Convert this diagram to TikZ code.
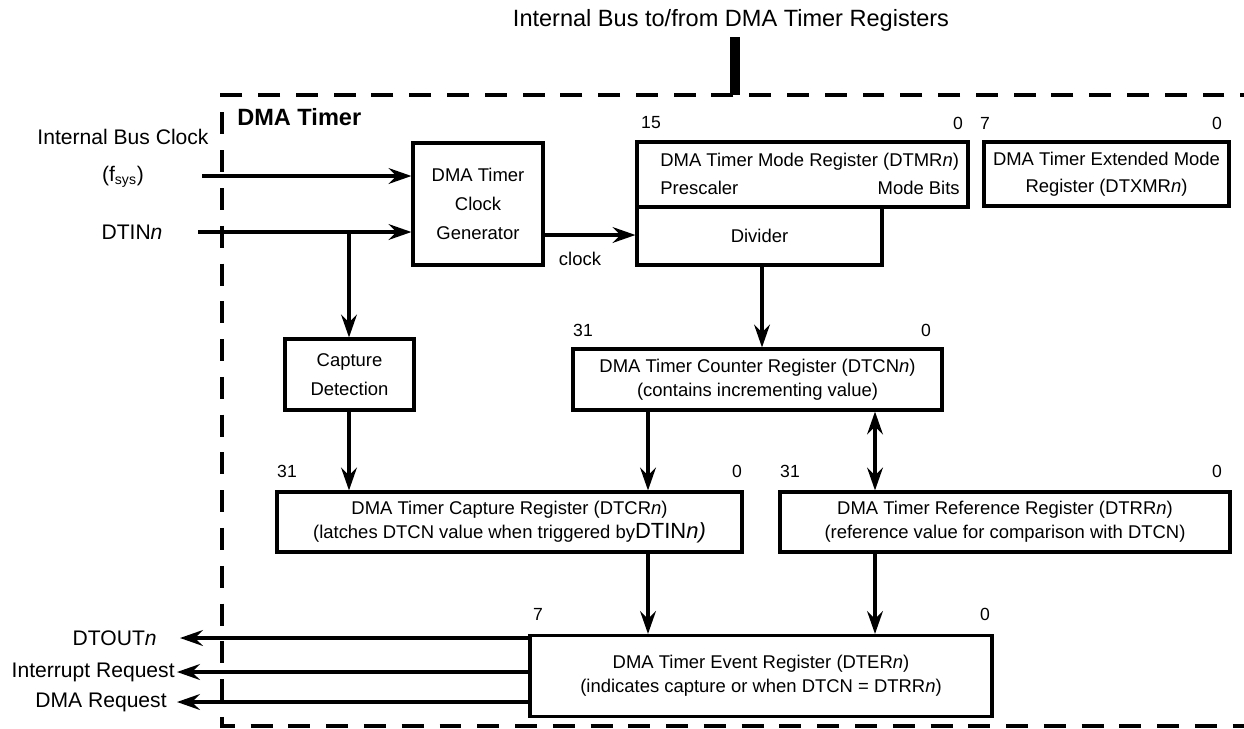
\documentclass[tikz,border=0pt]{standalone}
\usepackage{fontspec}
\setmainfont{Liberation Sans}
\usetikzlibrary{arrows.meta}

\newcommand{\boxfont}{\fontsize{10.5}{13.5}\selectfont}
\newcommand{\sidefont}{\fontsize{12}{14}\selectfont}
\newcommand{\bitfont}{\fontsize{10}{12}\selectfont}
\newcommand{\bigfont}{\fontsize{13.4}{16}\selectfont}

\tikzset{
  reg/.style={draw, line width=1.8pt, inner sep=0pt, align=center, font=\boxfont},
  txt/.style={inner sep=0pt, font=\boxfont},
  bit/.style={inner sep=0pt, font=\bitfont},
  side/.style={inner sep=0pt, align=center, font=\sidefont},
  tip/.style={Stealth[length=13pt,width=9pt,inset=4.5pt]},
  arr/.style={line width=1.8pt, -{Stealth[length=13pt,width=9pt,inset=4.5pt]}},
  dblarr/.style={line width=1.8pt, {Stealth[length=13pt,width=9pt,inset=4.5pt]}-{Stealth[length=13pt,width=9pt,inset=4.5pt]}},
  bus/.style={line width=5.6pt},
  frame/.style={line width=1.9pt, dash pattern=on 12.5pt off 9pt}
}

\begin{document}
\begin{tikzpicture}[x=0.02cm, y=-0.02cm]
\useasboundingbox (0,0) rectangle (1244,728);

% dashed outline of the timer block
\draw[frame] (1300,95) -- (222,95) -- (222,726) -- (1300,726);
\node[inner sep=0pt, anchor=west, font=\bigfont\bfseries] (blk) at (237,117) {DMA Timer};

% bus
\node[inner sep=0pt, font=\bigfont] (bustxt) at (731,20) {Internal Bus to/from DMA Timer Registers};
\coordinate (bustop) at (735,37);
\coordinate (busbot) at (735,95);
\draw[bus] (bustop) -- (busbot);

% registers and blocks
\node[reg, minimum width=2.6cm, minimum height=2.44cm] (clkgen) at (478,204) {DMA Timer\\[3pt]Clock\\[3pt]Generator};
\node[reg, minimum width=6.62cm, minimum height=1.3cm] (mode) at (802.5,174.5) {};
\node[reg, minimum width=4.9cm, minimum height=1.16cm] (divider) at (759.5,236) {Divider};
\node[reg, minimum width=4.9cm, minimum height=1.28cm] (xmode) at (1106.5,174) {DMA Timer Extended Mode\\[2pt]Register (DTXMR\textit{n})};
\node[reg, minimum width=2.58cm, minimum height=1.42cm] (capdet) at (349.5,374.5) {Capture\\[3pt]Detection};
\node[reg, minimum width=7.38cm, minimum height=1.22cm] (counter) at (757.5,379.5) {DMA Timer Counter Register (DTCN\textit{n})\\(contains incrementing value)};
\node[reg, minimum width=9.3cm, minimum height=1.2cm] (capreg) at (509.5,522) {DMA Timer Capture Register (DTCR\textit{n})\\(latches DTCN value when triggered by{\fontsize{12.5}{13.5}\selectfont DTIN\textit{n)}}};
\node[reg, minimum width=9.0cm, minimum height=1.2cm] (refreg) at (1005,522) {DMA Timer Reference Register (DTRR\textit{n})\\(reference value for comparison with DTCN)};
\node[reg, minimum width=9.24cm, minimum height=1.62cm] (event) at (761,676) {DMA Timer Event Register (DTER\textit{n})\\(indicates capture or when DTCN = DTRR\textit{n})};

% text inside the mode register
\node[txt, anchor=west] (modettl) at (660,162) {DMA Timer Mode Register (DTMR\textit{n})};
\node[txt, anchor=west] (presc) at (660,188) {Prescaler};
\node[txt, anchor=east] (modebits) at (960,188) {Mode Bits};

% bit numbers
\node[bit] (m15) at (651,123) {15};
\node[bit] (m0) at (958,123) {0};
\node[bit] (x7) at (985,123) {7};
\node[bit] (x0) at (1217,123) {0};
\node[bit] (c31) at (583,330) {31};
\node[bit] (c0) at (926,330) {0};
\node[bit] (p31) at (287,471) {31};
\node[bit] (p0) at (737,471) {0};
\node[bit] (r31) at (790,471) {31};
\node[bit] (r0) at (1217,471) {0};
\node[bit] (e7) at (538,614) {7};
\node[bit] (e0) at (985,614) {0};

% inputs
\node[side] (busclk) at (123,137) {Internal Bus Clock};
\node[side] (fsys) at (123,177) {(f\textsubscript{sys})};
\node[side] (dtinlbl) at (132,232) {DTIN\textit{n}};
\coordinate (fin) at (202,176);
\coordinate (din) at (198,232);
\draw[arr] (fin) -- (fin -| clkgen.west);
\draw[arr] (din) -- (din -| clkgen.west);

% columns of the vertical connectors
\coordinate (xa) at (349,0);
\coordinate (xb) at (648,0);
\coordinate (xc) at (762,0);
\coordinate (xd) at (875,0);
\coordinate (yclk) at (0,235);

\draw[arr] (xa |- din) -- (xa |- capdet.north);
\draw[arr] (yclk -| clkgen.east) -- (yclk -| divider.west);
\node[txt] (clklbl) at (580,259) {clock};
\draw[arr] (xc |- divider.south) -- (xc |- counter.north);
\draw[arr] (xa |- capdet.south) -- (xa |- capreg.north);
\draw[arr] (xb |- counter.south) -- (xb |- capreg.north);
\draw[dblarr] (xd |- counter.south) -- (xd |- refreg.north);
\draw[arr] (xb |- capreg.south) -- (xb |- event.north);
\draw[arr] (xd |- refreg.south) -- (xd |- event.north);

% outputs
\coordinate (dtout) at (180,638);
\coordinate (irq) at (177,672);
\coordinate (dmareq) at (177,702);
\draw[arr] (dtout -| event.west) -- (dtout);
\draw[arr] (irq -| event.west) -- (irq);
\draw[arr] (dmareq -| event.west) -- (dmareq);
\node[side, anchor=east] (dtoutlbl) at (157,638) {DTOUT\textit{n}};
\node[side, anchor=east] (irqlbl) at (175,672) {Interrupt Request};
\node[side, anchor=east] (dmalbl) at (167,702) {DMA Request};
\end{tikzpicture}
\end{document}
